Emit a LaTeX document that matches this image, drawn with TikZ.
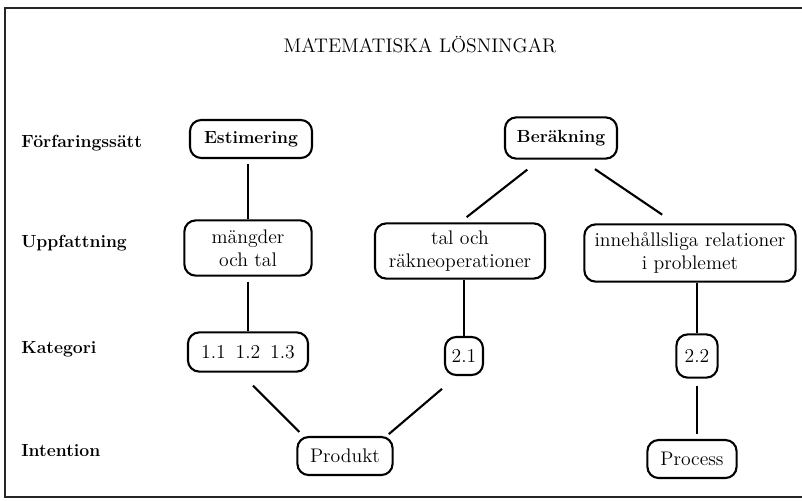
\documentclass[tikz,border=0pt]{standalone}
\usetikzlibrary{calc}
\begin{document}
\begin{tikzpicture}[x=0.025cm,y=-0.025cm,
    box/.style={draw,rounded corners=8pt,line width=1.5pt,inner sep=0pt,align=center,
      font=\fontsize{14}{16.5}\selectfont},
    boldbox/.style={box,font=\fontsize{12.5}{15}\selectfont\bfseries},
    rowlabel/.style={anchor=base west,inner sep=0pt,font=\fontsize{12.5}{15}\selectfont\bfseries},
    link/.style={line width=1.5pt}]
  \useasboundingbox (0,0) rectangle (802,500);
  \draw[line width=1.5pt,black!85] (802,8) -- (5,8) -- (5,497) -- (802,497);
  \draw
    (420,52) node[anchor=base,inner sep=0pt,font=\fontsize{14}{16}\selectfont] (title){MATEMATISKA LÖSNINGAR}
    (21,147) node[rowlabel] (forf){Förfaringssätt}
    (21,247) node[rowlabel] (uppf){Uppfattning}
    (21,353) node[rowlabel] (kat){Kategori}
    (21,456) node[rowlabel] (int){Intention}
    (251,139) node[boldbox,minimum width=3.05cm,minimum height=0.95cm] (est){Estimering}
    (561,138) node[boldbox,minimum width=2.8cm,minimum height=1.03cm] (ber){Beräkning}
    (248,248) node[box,minimum width=3.18cm,minimum height=1.38cm] (mae){mängder\\och tal}
    (460,251) node[box,minimum width=4.25cm,minimum height=1.38cm] (tal){tal och\\räkneoperationer}
    (690,253) node[box,minimum width=5.28cm,minimum height=1.43cm] (inn){innehållsliga relationer\\i problemet}
    (248,352) node[box,minimum width=3cm,minimum height=0.98cm] (k1){1.1\hspace{7pt}1.2\hspace{7pt}1.3}
    (464,356) node[box,minimum width=0.95cm,minimum height=0.95cm] (k21){2.1}
    (697,356) node[box,minimum width=1.03cm,minimum height=1.08cm] (k22){2.2}
    (345,456) node[box,minimum width=2.38cm,minimum height=0.95cm] (prod){Produkt}
    (692,459) node[box,minimum width=2.23cm,minimum height=0.95cm] (proc){Process};
  \begin{scope}[link]
    \draw[shorten <=3.5pt] (est.south -| mae.north) -- (mae.north);
    \draw[shorten <=3.5pt] (mae.south) -- (k1.north);
    \draw (tal.south -| k21.north) -- (k21.north);
    \draw (inn.south -| k22.north) -- (k22.north);
    \draw[shorten <=5pt,shorten >=3.5pt] (k22.south) -- (k22.south |- proc.north);
    \draw[shorten <=11.5pt,shorten >=6pt] ($(ber.south)+(-21,0)$) -- (tal.north);
    \draw[shorten <=12pt,shorten >=11pt] ($(ber.south)+(20,0)$) -- ($(inn.north)+(-15,0)$);
    \draw[shorten <=13pt,shorten >=4pt] ($(k1.south)+(-8,0)$) -- ($(prod.north west)+(7,0)$);
    \draw[shorten <=14pt,shorten >=2pt] ($(k21.south)+(-7,0)$) -- ($(prod.north east)+(-7,0)$);
  \end{scope}
\end{tikzpicture}
\end{document}
